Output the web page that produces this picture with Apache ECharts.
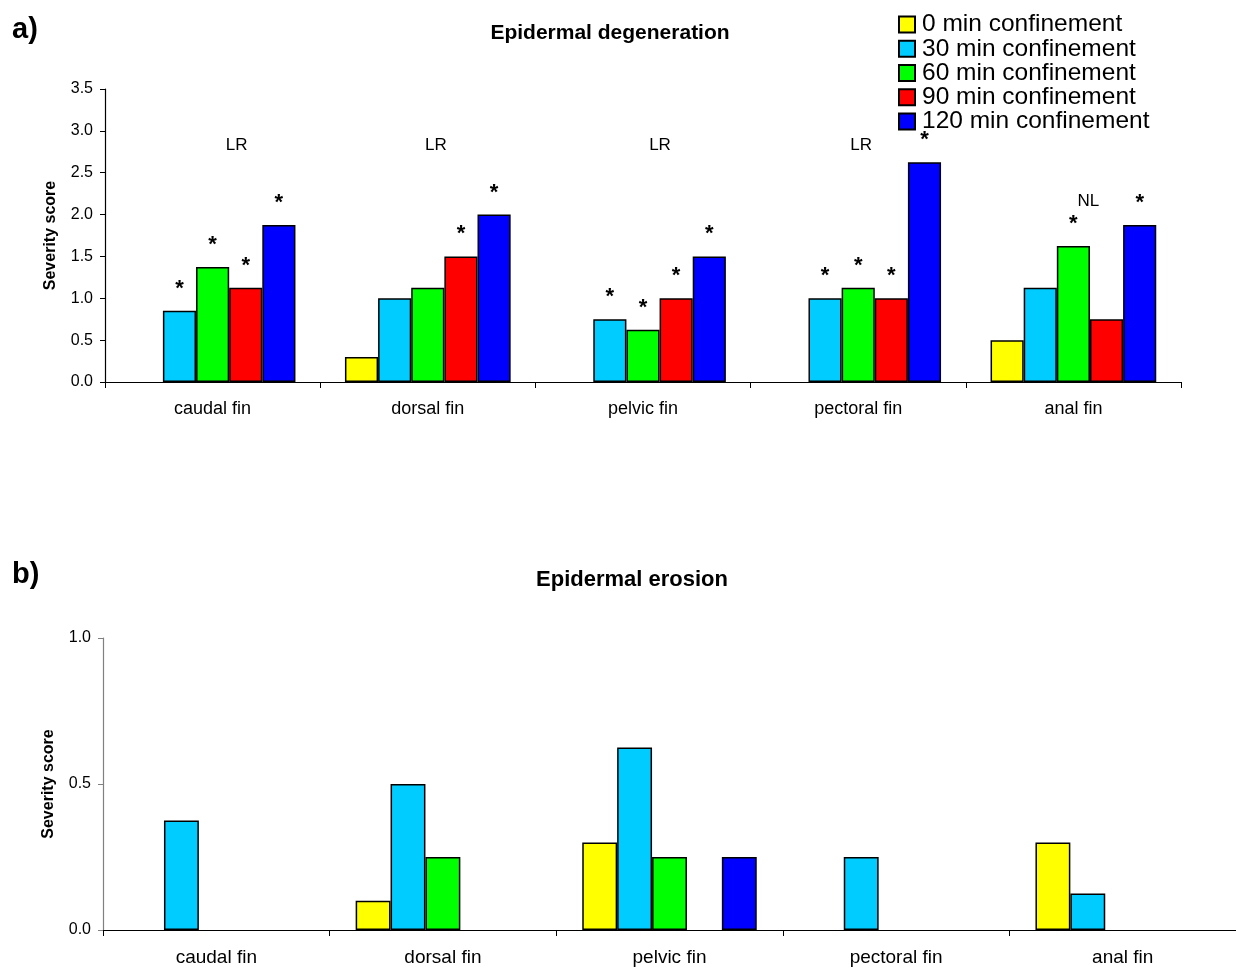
<!DOCTYPE html>
<html>
<head>
<meta charset="utf-8">
<title>Epidermal degeneration and erosion</title>
<script src="https://cdn.jsdelivr.net/npm/echarts@6/dist/echarts.min.js"></script>
<style>
  html, body { margin: 0; padding: 0; background: #fff; }
  #chart { width: 1236px; height: 969px; }
</style>
</head>
<body>
<div id="chart"></div>
<script>
// Fin regions and confinement durations
const fins = ['caudal fin', 'dorsal fin', 'pelvic fin', 'pectoral fin', 'anal fin'];
const groups = ['0 min confinement', '30 min confinement', '60 min confinement', '90 min confinement', '120 min confinement'];

// a) Epidermal degeneration severity (null = no bar)
const degen0   = [null, 0.3,   null,  null,  0.5];
const degen30  = [0.85, 1.0,   0.75,  1.0,   1.125];
const degen60  = [1.375, 1.125, 0.625, 1.125, 1.625];
const degen90  = [1.125, 1.5,   1.0,   1.0,   0.75];
const degen120 = [1.875, 2.0,   1.5,   2.625, 1.875];

// significance flags (asterisks) for panel a
const sig0   = [false, false, false, false, false];
const sig30  = [true,  false, true,  true,  false];
const sig60  = [true,  false, true,  true,  true];
const sig90  = [true,  true,  true,  true,  false];
const sig120 = [true,  true,  true,  true,  true];

// trend tags per fin and the score level they sit at
const trendTags  = ['LR', 'LR', 'LR', 'LR', 'NL'];
const trendLevel = [2.83, 2.83, 2.83, 2.83, 2.16];

// b) Epidermal erosion severity (null = no bar)
const erosion0   = [null,  0.1,  0.3,   null, 0.3];
const erosion30  = [0.375, 0.5,  0.625, 0.25, 0.125];
const erosion60  = [null,  0.25, 0.25,  null, null];
const erosion90  = [null,  null, null,  null, null];
const erosion120 = [null,  null, 0.25,  null, null];

const yTicksA = [0, 0.5, 1.0, 1.5, 2.0, 2.5, 3.0, 3.5];
const yTicksB = [0, 0.5, 1.0];

const colors = ['#FFFF00', '#00CCFF', '#00FF00', '#FF0000', '#0000FF'];
const FONT = 'Liberation Sans, Arial, sans-serif';

const degenSets = [degen0, degen30, degen60, degen90, degen120];
const sigSets = [sig0, sig30, sig60, sig90, sig120];
const erosionSets = [erosion0, erosion30, erosion60, erosion90, erosion120];

function barSeries(values, idx, axisIdx, sigs) {
  return {
    name: groups[idx],
    type: 'bar',
    xAxisIndex: axisIdx,
    yAxisIndex: axisIdx,
    barGap: '0%',
    barCategoryGap: '23%',
    itemStyle: { color: colors[idx], borderColor: '#000', borderWidth: 1.5 },
    emphasis: { disabled: true },
    data: values.map((v, i) => {
      const item = { value: v === null ? '-' : v };
      if (sigs && sigs[i] && v !== null) {
        item.label = {
          show: true, position: 'top', distance: 11,
          formatter: '*', fontSize: 22, fontWeight: 'bold',
          color: '#000', fontFamily: FONT
        };
      }
      return item;
    })
  };
}

const series = [];
degenSets.forEach((vals, i) => series.push(barSeries(vals, i, 0, sigSets[i])));
erosionSets.forEach((vals, i) => series.push(barSeries(vals, i, 1, null)));

// trend tags drawn as text above each fin group
const tagShift = [24, 8, 17, 3, 15];
series.push({
  type: 'scatter',
  xAxisIndex: 0,
  yAxisIndex: 0,
  symbolSize: 0,
  silent: true,
  z: 5,
  itemStyle: { opacity: 1 },
  data: trendTags.map((t, i) => ({
    value: [i, trendLevel[i]],
    label: {
      show: true, position: 'inside', offset: [tagShift[i], 0],
      formatter: t, fontSize: 17, color: '#000', opacity: 1, fontFamily: FONT
    }
  }))
});

function yAxis(gridIdx, max, ticks, lineColor) {
  return {
    type: 'value',
    gridIndex: gridIdx,
    min: 0, max: max, interval: 0.5,
    name: 'Severity score',
    nameLocation: 'middle',
    nameGap: 46,
    nameRotate: 90,
    nameTextStyle: { fontFamily: FONT, fontSize: 16, fontWeight: 'bold', color: '#000' },
    axisLine: { show: true, lineStyle: { color: lineColor, width: 1.2 } },
    axisTick: { show: true, length: 5, lineStyle: { color: lineColor } },
    splitLine: { show: false },
    axisLabel: {
      fontFamily: FONT, fontSize: 16, color: '#000', margin: 12,
      customValues: ticks,
      formatter: v => v.toFixed(1)
    }
  };
}

function xAxis(gridIdx, fontSize) {
  return {
    type: 'category',
    gridIndex: gridIdx,
    data: fins,
    axisLine: { show: true, lineStyle: { color: '#000', width: 1.2 } },
    axisTick: { show: true, alignWithLabel: false, length: 6, inside: false, lineStyle: { color: '#000' } },
    axisLabel: { fontFamily: FONT, fontSize: fontSize, color: '#000', margin: 18 },
    splitLine: { show: false }
  };
}

const option = {
  animation: false,
  backgroundColor: '#fff',
  title: [
    { text: 'a)', left: 7, top: 10, textStyle: { fontFamily: FONT, fontSize: 29, fontWeight: 'bold', color: '#000' } },
    { text: 'Epidermal degeneration', left: 605, top: 18, textAlign: 'center', textStyle: { fontFamily: FONT, fontSize: 21, fontWeight: 'bold', color: '#000' } },
    { text: 'b)', left: 7, top: 555, textStyle: { fontFamily: FONT, fontSize: 29, fontWeight: 'bold', color: '#000' } },
    { text: 'Epidermal erosion', left: 627, top: 564, textAlign: 'center', textStyle: { fontFamily: FONT, fontSize: 22, fontWeight: 'bold', color: '#000' } }
  ],
  legend: {
    data: groups,
    orient: 'vertical',
    left: 893,
    top: 7,
    itemWidth: 16,
    itemHeight: 16,
    itemGap: -0.75,
    icon: 'rect',
    selectedMode: false,
    textStyle: { fontFamily: FONT, fontSize: 24.5, color: '#000', lineHeight: 23.5, padding: [0, 0, 0, 2] }
  },
  grid: [
    { left: 105, right: 55, top: 89, height: 293 },
    { left: 103, right: 0, top: 638, height: 292 }
  ],
  xAxis: [xAxis(0, 18), xAxis(1, 19)],
  yAxis: [yAxis(0, 3.5, yTicksA, '#000'), yAxis(1, 1.0, yTicksB, '#808080')],
  series: series
};

const chart = echarts.init(document.getElementById('chart'), null, { renderer: 'canvas' });
chart.setOption(option);
</script>
</body>
</html>
